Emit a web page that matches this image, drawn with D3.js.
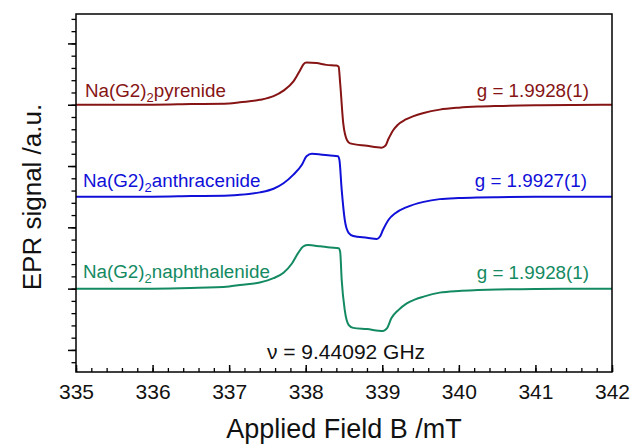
<!DOCTYPE html>
<html>
<head>
<meta charset="utf-8">
<script src="https://cdn.jsdelivr.net/npm/d3@7"></script>
<style>
  html, body { margin: 0; padding: 0; background: #fff; }
  svg { display: block; font-family: "Liberation Sans", Arial, sans-serif; }
</style>
</head>
<body>
<svg id="chart" width="632" height="444"></svg>
<script>
// ---- data ----
const xTickValues = [335, 336, 337, 338, 339, 340, 341, 342];
const seriesNames = ["pyrenide", "anthracenide", "naphthalenide"];
const gLabels = ["g = 1.9928(1)", "g = 1.9927(1)", "g = 1.9928(1)"];
const seriesColors = ["#861414", "#1010d8", "#138a62"];
const seriesOffsets = [4, 2.5, 1];
const frequencyLabel = "\u03BD = 9.44092 GHz";

const pyrenideField  = [335, 336, 336.5, 337, 337.14, 337.4, 337.58, 337.71, 337.84, 337.93, 337.97, 338.01, 338.14, 338.27, 338.4, 338.43, 338.45, 338.49, 338.54, 338.58, 338.8, 338.99, 339.04, 339.08, 339.14, 339.2, 339.3, 339.4, 339.54, 339.75, 340, 340.25, 340.5, 341, 341.5, 342];
const pyrenideSignal = [0, 0, 0.01, 0.02, 0.04, 0.08, 0.14, 0.23, 0.38, 0.57, 0.66, 0.69, 0.68, 0.65, 0.64, 0.62, 0.35, -0.30, -0.58, -0.63, -0.67, -0.70, -0.67, -0.56, -0.42, -0.33, -0.245, -0.19, -0.135, -0.08, -0.048, -0.03, -0.02, -0.009, -0.004, -0.002];

const anthracenideField  = [335, 336, 336.5, 337, 337.14, 337.4, 337.58, 337.71, 337.84, 337.95, 338.01, 338.08, 338.19, 338.32, 338.42, 338.44, 338.47, 338.51, 338.56, 338.62, 338.8, 338.93, 338.97, 339.01, 339.08, 339.17, 339.32, 339.54, 339.75, 340, 340.25, 340.5, 341, 342];
const anthracenideSignal = [0, 0, 0.01, 0.02, 0.03, 0.07, 0.13, 0.22, 0.36, 0.52, 0.66, 0.70, 0.69, 0.67, 0.66, 0.60, 0.11, -0.38, -0.59, -0.64, -0.67, -0.69, -0.65, -0.54, -0.38, -0.27, -0.17, -0.085, -0.04, -0.022, -0.013, -0.008, -0.003, 0];

const naphthalenideField  = [335, 336, 336.5, 337, 337.14, 337.4, 337.58, 337.71, 337.82, 337.9, 337.97, 338.03, 338.19, 338.32, 338.43, 338.45, 338.47, 338.51, 338.56, 338.62, 338.8, 339.01, 339.06, 339.12, 339.21, 339.32, 339.43, 339.54, 339.75, 340, 340.25, 340.5, 341, 342];
const naphthalenideSignal = [0, 0, 0.01, 0.035, 0.06, 0.10, 0.17, 0.26, 0.41, 0.58, 0.69, 0.71, 0.69, 0.67, 0.66, 0.60, 0.14, -0.35, -0.59, -0.64, -0.66, -0.69, -0.65, -0.48, -0.35, -0.24, -0.175, -0.13, -0.065, -0.037, -0.024, -0.015, -0.006, 0];

// ---- layout ----
const svg = d3.select("#chart");
const plot = { left: 76, right: 612, top: 14, bottom: 372 };

const x = d3.scaleLinear().domain([335, 342]).range([plot.left, plot.right]);
const y = d3.scaleLinear().domain([-0.36, 5.48]).range([plot.bottom, plot.top]);

const seriesData = [
  { field: pyrenideField, signal: pyrenideSignal },
  { field: anthracenideField, signal: anthracenideSignal },
  { field: naphthalenideField, signal: naphthalenideSignal }
];

// curves
const line = d3.line()
  .x(d => x(d[0]))
  .y(d => y(d[1]))
  .curve(d3.curveMonotoneX);

seriesData.forEach((s, i) => {
  const pts = s.field.map((f, k) => [f, s.signal[k] + seriesOffsets[i]]);
  svg.append("path")
    .datum(pts)
    .attr("d", line)
    .attr("fill", "none")
    .attr("stroke", seriesColors[i])
    .attr("stroke-width", 2)
    .attr("stroke-linejoin", "round");
});

// frame
svg.append("rect")
  .attr("x", plot.left).attr("y", plot.top)
  .attr("width", plot.right - plot.left).attr("height", plot.bottom - plot.top)
  .attr("fill", "none").attr("stroke", "#000").attr("stroke-width", 1.5);

// x axis (ticks inward)
const xMinor = d3.range(335, 342.001, 0.2).map(v => +v.toFixed(1));
svg.append("g")
  .attr("transform", `translate(0,${plot.bottom})`)
  .call(d3.axisBottom(x).tickValues(xMinor).tickSize(-4).tickFormat(""))
  .call(g => g.select(".domain").remove())
  .call(g => g.selectAll("line").attr("stroke-width", 1.3));
svg.append("g")
  .attr("transform", `translate(0,${plot.bottom})`)
  .call(d3.axisBottom(x).tickValues(xTickValues).tickSize(-7).tickPadding(12).tickFormat(d3.format("d")))
  .call(g => g.select(".domain").remove())
  .call(g => g.selectAll("line").attr("stroke-width", 1.5))
  .call(g => g.selectAll("text").attr("font-size", 21).attr("fill", "#111")
      .attr("font-family", "'Liberation Sans', Arial, sans-serif"));

// y axis (ticks outward, no labels)
const yMinor = d3.range(-0.2, 5.41, 0.2).map(v => +v.toFixed(1));
svg.append("g")
  .attr("transform", `translate(${plot.left},0)`)
  .call(d3.axisLeft(y).tickValues(yMinor).tickSize(4.5).tickFormat(""))
  .call(g => g.select(".domain").remove())
  .call(g => g.selectAll("line").attr("stroke-width", 1.3));
svg.append("g")
  .attr("transform", `translate(${plot.left},0)`)
  .call(d3.axisLeft(y).tickValues([0, 1, 2, 3, 4, 5]).tickSize(8).tickFormat(""))
  .call(g => g.select(".domain").remove())
  .call(g => g.selectAll("line").attr("stroke-width", 1.5));

// axis titles
svg.append("text")
  .attr("x", 344).attr("y", 438)
  .attr("text-anchor", "middle").attr("font-size", 27).attr("fill", "#111")
  .text("Applied Field B /mT");
svg.append("text")
  .attr("transform", `translate(41,197) rotate(-90)`)
  .attr("text-anchor", "middle").attr("font-size", 26).attr("fill", "#111")
  .text("EPR signal /a.u.");

// series labels
const labelX = [85, 83, 83];
const labelBaseline = [96.5, 187, 277.5];
const gRight = [589, 587, 589];
const gBaseline = [97, 187, 278.5];
seriesNames.forEach((name, i) => {
  const t = svg.append("text")
    .attr("x", labelX[i]).attr("y", labelBaseline[i])
    .attr("font-size", 18.8).attr("fill", seriesColors[i]);
  t.append("tspan").text("Na(G2)");
  t.append("tspan").attr("font-size", 13).attr("dy", 5).text("2");
  t.append("tspan").attr("dy", -5).text(name);
  svg.append("text")
    .attr("x", gRight[i]).attr("y", gBaseline[i])
    .attr("text-anchor", "end").attr("font-size", 18.8).attr("fill", seriesColors[i])
    .text(gLabels[i]);
});

// frequency label
svg.append("text")
  .attr("x", 346).attr("y", 358.5)
  .attr("text-anchor", "middle").attr("font-size", 21).attr("fill", "#111")
  .text(frequencyLabel);
</script>
</body>
</html>
